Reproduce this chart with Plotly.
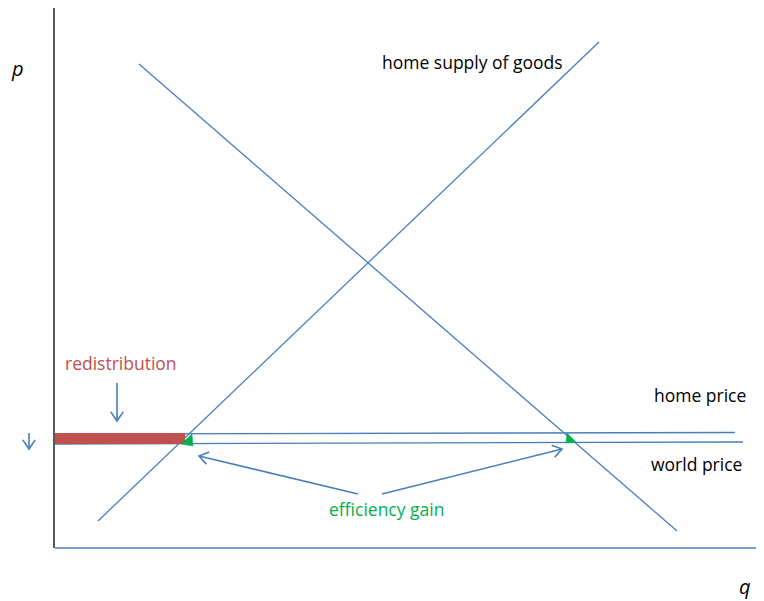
import math
import plotly.graph_objects as go

# chart coordinates: q to the right, p upwards (1 unit = 1 px)
supply_q = [43, 544]
supply_p = [27, 506]
demand_q = [84, 622]
demand_p = [484, 17]
home_price_q = [0, 680]
home_price_p = [114, 115.5]
world_price_q = [0, 688]
world_price_p = [104, 106]
redistribution_q = [0, 130]
redistribution_p = [109.5, 109.5]
gain_left_q = [126, 137, 138, 126]
gain_left_p = [104, 114, 102, 104]
gain_right_q = [512, 511, 521, 512]
gain_right_p = [115, 105, 106, 115]

# arrows: (tail_q, tail_p, head_q, head_p)
arrows = [
    (62, 165, 62, 127),
    (-26, 115, -26, 99),
    (303, 54, 144, 92),
    (327, 54, 507, 99),
]

# label text and centre position
labels = [
    ("home supply of goods", 417, 486, "black"),
    ("redistribution", 66, 185, "#C0504D"),
    ("home price", 645, 153, "black"),
    ("world price", 641, 84, "black"),
    ("efficiency gain", 331, 39, "#00B050"),
]

BLUE = "#4A7EBB"
fig = go.Figure()

fig.add_trace(go.Scatter(x=supply_q, y=supply_p, mode="lines", line=dict(color=BLUE, width=1.3)))
fig.add_trace(go.Scatter(x=demand_q, y=demand_p, mode="lines", line=dict(color=BLUE, width=1.3)))
fig.add_trace(go.Scatter(x=home_price_q, y=home_price_p, mode="lines", line=dict(color=BLUE, width=1.3)))
fig.add_trace(go.Scatter(x=world_price_q, y=world_price_p, mode="lines", line=dict(color=BLUE, width=1.3)))
fig.add_trace(go.Scatter(x=redistribution_q, y=redistribution_p, mode="lines", line=dict(color="#C0504D", width=11)))
fig.add_trace(go.Scatter(x=gain_left_q, y=gain_left_p, mode="lines", fill="toself",
                         fillcolor="#00B050", line=dict(color="#00B050", width=0.5)))
fig.add_trace(go.Scatter(x=gain_right_q, y=gain_right_p, mode="lines", fill="toself",
                         fillcolor="#00B050", line=dict(color="#00B050", width=0.5)))

# axes
fig.add_trace(go.Scatter(x=[-1, -1], y=[0, 542], mode="lines", line=dict(color="black", width=1.3)))
fig.add_trace(go.Scatter(x=[0, 709], y=[0, 0], mode="lines", line=dict(color=BLUE, width=1.5)))

# arrows with open chevron heads
for tq, tp, hq, hp in arrows:
    ang = math.atan2(tp - hp, tq - hq)
    hx = [hq + 11 * math.cos(ang + 0.6), hq, hq + 11 * math.cos(ang - 0.6)]
    hy = [hp + 11 * math.sin(ang + 0.6), hp, hp + 11 * math.sin(ang - 0.6)]
    fig.add_trace(go.Scatter(x=[tq, hq, None] + hx, y=[tp, hp, None] + hy, mode="lines",
                             line=dict(color=BLUE, width=1.6)))

for text, q, p, col in labels:
    fig.add_annotation(x=q, y=p, text=text, showarrow=False, xanchor="center",
                       font=dict(color=col, size=17.5))
fig.add_annotation(x=-38, y=480, text="<i>p</i>", showarrow=False, font=dict(size=20, color="black"))
fig.add_annotation(x=690, y=-38, text="<i>q</i>", showarrow=False, font=dict(size=20, color="black"))

# page body has an 8px margin, so ranges are shifted to keep marks in place
fig.update_layout(
    width=764, height=601, showlegend=False,
    margin=dict(l=0, r=0, t=0, b=0),
    plot_bgcolor="white", paper_bgcolor="white",
    font=dict(family="Open Sans, sans-serif"),
    xaxis=dict(range=[-47, 717], visible=False),
    yaxis=dict(range=[-61, 540], visible=False),
)
fig.write_html("out.html")
